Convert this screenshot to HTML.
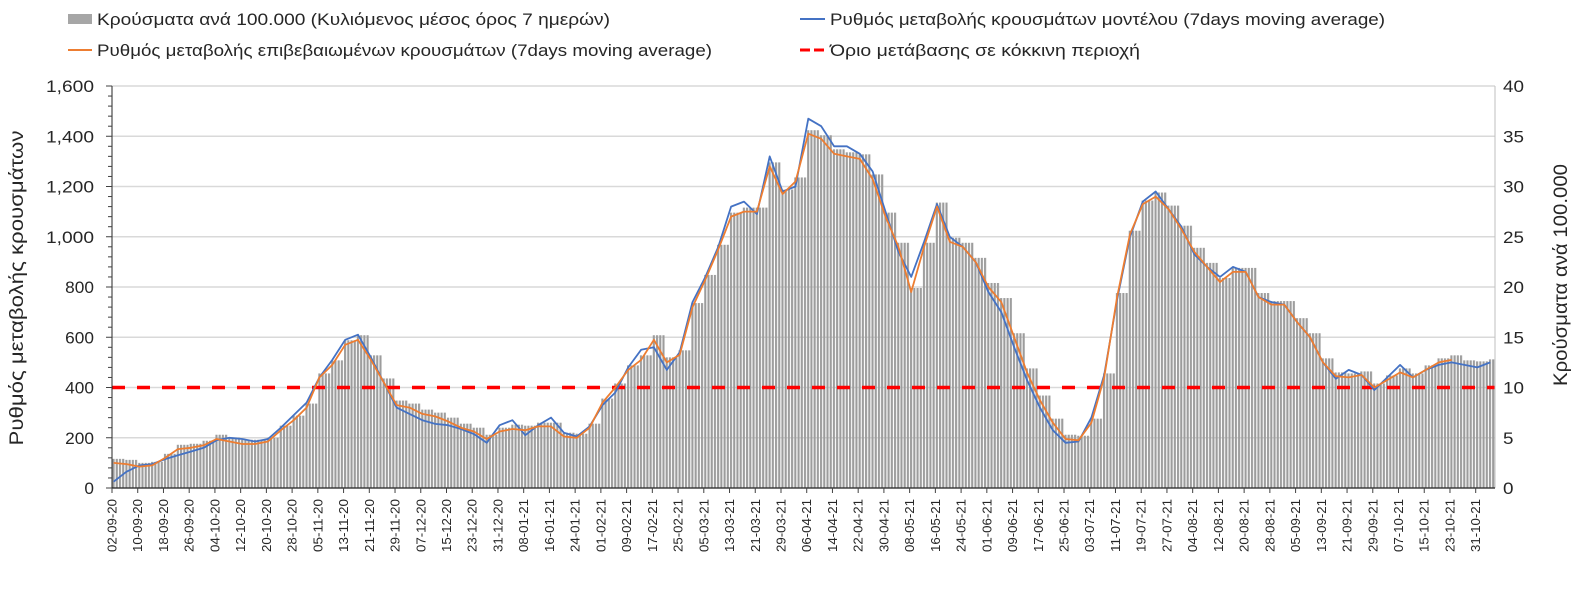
<!DOCTYPE html>
<html><head><meta charset="utf-8"><style>
body{margin:0;background:#fff;}
svg text{font-family:"Liberation Sans",sans-serif;fill:#262626;}
</style></head><body>
<svg id="chart" width="1581" height="584" xmlns="http://www.w3.org/2000/svg">
<defs>
<pattern id="stripes" patternUnits="userSpaceOnUse" width="3.216" height="10" x="112" y="0">
<rect x="0.5" y="0" width="2.1" height="10" fill="#9c9c9c"/>
</pattern>
</defs>
<g id="legend">
<g><rect x="68" y="14" width="24" height="10" fill="#a6a6a6"/><text x="97" y="25" font-size="17" textLength="513" lengthAdjust="spacingAndGlyphs">Κρούσματα ανά 100.000 (Κυλιόμενος μέσος όρος 7 ημερών)</text></g>
<g><line x1="800" y1="19" x2="825" y2="19" stroke="#4472C4" stroke-width="2"/><text x="830" y="25" font-size="17" textLength="555" lengthAdjust="spacingAndGlyphs">Ρυθμός μεταβολής κρουσμάτων μοντέλου (7days moving average)</text></g>
<g><line x1="68" y1="50" x2="92" y2="50" stroke="#ED7D31" stroke-width="2"/><text x="97" y="56" font-size="17" textLength="615" lengthAdjust="spacingAndGlyphs">Ρυθμός μεταβολής επιβεβαιωμένων κρουσμάτων (7days moving average)</text></g>
<g><line x1="800" y1="50" x2="825" y2="50" stroke="#FF0000" stroke-width="3" stroke-dasharray="10,4"/><text x="830" y="56" font-size="17" textLength="310" lengthAdjust="spacingAndGlyphs">Όριο μετάβασης σε κόκκινη περιοχή</text></g>
</g>
<text transform="translate(23,288) rotate(-90)" text-anchor="middle" font-size="19" textLength="315" lengthAdjust="spacingAndGlyphs">Ρυθμός μεταβολής κρουσμάτων</text>
<text transform="translate(1567,275) rotate(-90)" text-anchor="middle" font-size="19" textLength="222" lengthAdjust="spacingAndGlyphs">Κρούσματα ανά 100.000</text>
<g id="plot"></g>
</svg>
<script>
const startDate = [2020, 8, 2];
const nDays = 430;
const stepDays = 4;
const leftTicks = [0,200,400,600,800,1000,1200,1400,1600];
const rightTicks = [0,5,10,15,20,25,30,35,40];
const threshold = [400];
const casesPer100k = [2.9,2.8,2.5,2.6,3.4,4.3,4.4,4.7,5.3,5.0,
4.8,4.8,5.0,6.2,7.2,8.4,11.4,12.7,14.7,15.2,
13.2,10.9,8.7,8.4,7.8,7.5,7.0,6.4,6.0,5.3,
6.0,6.3,6.2,6.5,6.5,5.5,5.4,6.4,8.9,10.4,
12.2,13.2,15.2,13.0,13.7,18.4,21.2,24.2,27.4,27.9,
27.9,32.4,29.7,30.9,35.6,35.1,33.7,33.4,33.2,31.2,
27.4,24.4,19.9,24.4,28.4,24.9,24.4,22.9,20.4,18.9,
15.4,11.9,9.2,6.9,5.3,5.2,6.9,11.4,19.4,25.6,
28.6,29.4,28.1,26.1,23.9,22.4,20.9,21.9,21.9,19.4,
18.6,18.6,16.9,15.4,12.9,11.5,11.4,11.6,10.4,11.2,
11.9,11.4,12.2,12.9,13.2,12.7,12.6,12.8];
const modelRate = [25,65,90,95,115,130,145,160,190,200,
195,185,195,240,290,340,440,510,590,610,
520,420,320,295,270,255,250,235,215,180,
250,270,210,250,280,220,205,245,330,380,
480,550,560,470,540,740,840,960,1120,1140,
1090,1320,1180,1200,1470,1440,1360,1360,1330,1260,
1100,940,840,980,1130,1000,960,900,780,700,
560,430,320,230,180,185,280,450,750,1000,
1140,1180,1110,1040,930,880,840,880,860,760,
740,730,660,600,500,435,470,450,390,440,
490,440,470,490,500,490,480,500];
const confirmedRate = [100,95,85,90,120,155,160,170,195,185,
175,175,185,230,270,320,440,490,570,590,
510,420,330,320,295,285,265,240,225,195,
225,235,230,245,245,205,200,240,340,400,
470,510,590,500,530,720,830,950,1080,1100,
1100,1280,1170,1220,1410,1390,1330,1320,1310,1230,
1080,960,780,960,1120,980,960,900,800,740,
600,460,350,260,195,190,260,440,760,1010,
1130,1160,1110,1030,940,880,820,860,860,760,
730,730,660,600,500,445,440,450,400,430,
460,440,470,500,510];

const NS="http://www.w3.org/2000/svg";
const plot=document.getElementById('plot');
const X0=112,X1=1495,Y0=488,Y1=86;
const dayW=(X1-X0)/nDays;
const xDay=d=>X0+(d+0.5)*dayW;
const yL=v=>Y0-(v/1600)*(Y0-Y1);
const yR=v=>Y0-(v/40)*(Y0-Y1);
function mk(tag,attrs){const e=document.createElementNS(NS,tag);for(const k in attrs)e.setAttribute(k,attrs[k]);plot.appendChild(e);return e;}

leftTicks.forEach(v=>{
  const g=mk('line',{x1:X0,x2:X1,y1:yL(v),y2:yL(v),stroke:'#d9d9d9','stroke-width':1.5});
  
  
  const s=v.toLocaleString('en-US');
  const t=mk('text',{x:94,y:yL(v)+6,'text-anchor':'end','font-size':17,textLength:s.length*9.6,lengthAdjust:'spacingAndGlyphs'});
  t.textContent=s;
  
  
});
rightTicks.forEach(v=>{
  const s=String(v);
  const t=mk('text',{x:1503,y:yR(v)+6,'font-size':17,textLength:s.length*10.5,lengthAdjust:'spacingAndGlyphs'});
  t.textContent=s;
  
  
});
casesPer100k.forEach((v,i)=>{
  const d=i*stepDays;
  const w=Math.min(stepDays,nDays-d)*dayW;
  const b=mk('rect',{x:X0+d*dayW,y:yR(v),width:w,height:Y0-yR(v),fill:'url(#stripes)'});
  
  
});
const th=mk('line',{x1:X0,x2:X1,y1:yL(threshold[0]),y2:yL(threshold[0]),stroke:'#FF0000','stroke-width':3.5,'stroke-dasharray':'13,12'});


function line(arr,color,name){
  const pts=arr.map((v,i)=>xDay(i*stepDays).toFixed(1)+','+yL(v).toFixed(1)).join(' ');
  const p=mk('polyline',{points:pts,fill:'none',stroke:color,'stroke-width':1.8,'stroke-linejoin':'round'});
  
  
}
line(modelRate,'#4472C4','model-rate-line');
line(confirmedRate,'#ED7D31','confirmed-rate-line');
const la=mk('line',{x1:X0,x2:X0,y1:Y1,y2:Y0,stroke:'#262626','stroke-width':1});


for(let v=0;v<=1600;v+=40){const tk=mk('line',{x1:X0-(v%200===0?6:4),x2:X0,y1:yL(v),y2:yL(v),stroke:'#404040','stroke-width':1});

}
const ra=mk('line',{x1:X1,x2:X1,y1:Y1,y2:Y0,stroke:'#bfbfbf','stroke-width':1});


const xa=mk('line',{x1:X0,x2:X1,y1:Y0,y2:Y0,stroke:'#262626','stroke-width':1.2});


const base=new Date(Date.UTC(startDate[0],startDate[1],startDate[2]));
const p2=n=>String(n).padStart(2,'0');
for(let d=0;d<nDays;d+=8){
  const x=X0+d*dayW;
  const tk=mk('line',{x1:x,x2:x,y1:Y0,y2:Y0+5,stroke:'#404040','stroke-width':1});
  
  
  const dt=new Date(base.getTime()+d*86400000);
  const s=p2(dt.getUTCDate())+'-'+p2(dt.getUTCMonth()+1)+'-'+p2(dt.getUTCFullYear()%100);
  const t=mk('text',{transform:`translate(${x+4.5},${Y0+11}) rotate(-90)`,'text-anchor':'end','font-size':12.5,textLength:53,lengthAdjust:'spacingAndGlyphs'});
  t.textContent=s;
  
  
}
</script>
</body></html>
